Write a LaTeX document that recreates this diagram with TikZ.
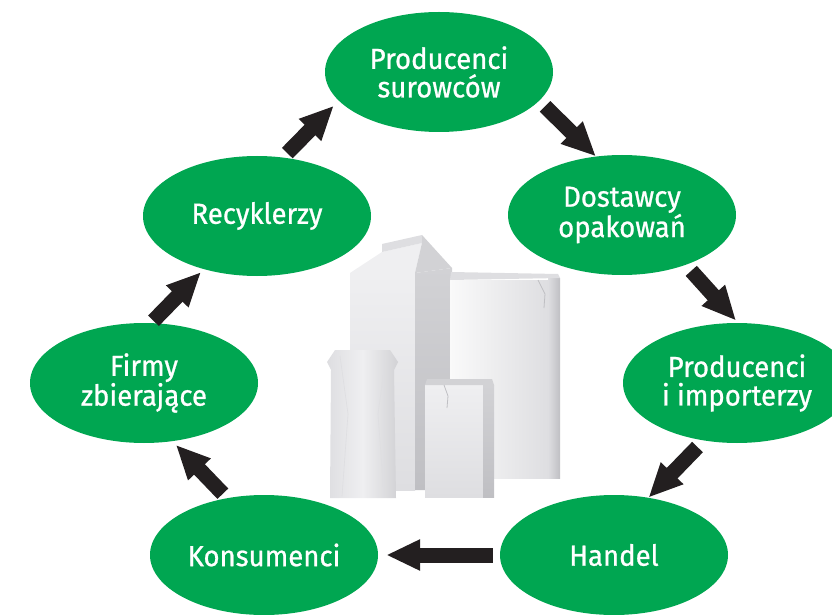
\documentclass[tikz,border=0pt]{standalone}
\usepackage{fontspec}
\setmainfont{Fira Sans}[FakeStretch=0.95,FakeBold=0.8]
\usetikzlibrary{arrows.meta,shapes.geometric}
\definecolor{grn}{HTML}{00A651}
\definecolor{arr}{HTML}{231F20}
\definecolor{c1}{HTML}{EFEFF1}
\definecolor{c2}{HTML}{D2D2D5}
\definecolor{c3}{HTML}{DEDEE1}
\definecolor{c4}{HTML}{BFBFC3}
\tikzset{
 stage/.style={ellipse, fill=grn, draw=none, minimum width=228pt, minimum height=120pt,
   inner sep=0pt, text=white, align=center, font=\fontsize{29}{28.5}\selectfont},
 flow/.style={draw=arr, line width=15pt, -{Triangle[width=29pt,length=34pt]}},
 fold/.style={draw=c4, line width=0.8pt},
}
\begin{document}
\begin{tikzpicture}[x=1pt,y=1pt]
\useasboundingbox (0,0) rectangle (832,614);
% ---- cartons (picture) ----
% tall gable carton
\shade[top color=c1, bottom color=c3] (350,124) rectangle (415,341);
\shade[top color=c2, bottom color=c4] (415,124) -- (415,341) -- (452,346) -- (452,124) -- cycle;
\fill[c1] (350,341) -- (382,362) -- (422,371) -- (415,341) -- cycle;
\fill[c3] (382,362) -- (382,370) -- (422,379) -- (422,371) -- cycle;
\fill[c2] (415,341) -- (422,371) -- (422,379) -- (452,346) -- cycle;
% right box
\shade[left color=white!96!gray, right color=c3] (450,136) rectangle (548,334);
\shade[left color=c3, right color=c4] (548,136) rectangle (560,336);
\fill[c3] (450,334) -- (451,342) -- (558,340) -- (560,336) -- cycle;
\draw[fold] (538,334) -- (545,320) -- (544,306);
% pouch carton
\shade[left color=c3, right color=c2, middle color=c1]
  (330,116) -- (331,244) -- (327,252) -- (335,264) -- (390,264) -- (398,252) -- (394,244) -- (396,116) -- cycle;
\draw[draw=c3, line width=0.6pt] (340,258) -- (348,200) -- (342,118);
\draw[draw=c3, line width=0.6pt] (386,258) -- (378,200) -- (384,118);
% small carton
\shade[top color=c1, bottom color=c3] (425,117) rectangle (483,229);
\shade[top color=c2, bottom color=c4] (483,117) rectangle (494,229);
\fill[c2] (425,229) -- (427,235) -- (492,235) -- (494,229) -- cycle;
\draw[fold] (444,229) -- (448,218) -- (447,206);
% ---- stages ----
\node[stage] (s) at (439,542) {Producenci\\surowców};
\node[stage] (d) at (622,399) {Dostawcy\\opakowań};
\node[stage] (p) at (737,231) {Producenci\\i importerzy};
\node[stage] (h) at (614,59) {Handel};
\node[stage] (k) at (264,59) {Konsumenci};
\node[stage] (f) at (144,231) {Firmy\\zbierające};
\node[stage] (r) at (257,398) {Recyklerzy};
% ---- flow arrows ----
\draw[flow, shorten <=8pt] (s.-16) -- (d.114);
\draw[flow, shorten <=8pt, shorten >=3pt] (d.-38) -- (p.89);
\draw[flow, shorten <=9pt] (p.-120) -- (h.59);
\draw[flow, shorten <=7pt, shorten >=8pt] (h.180) -- (k.0);
\draw[flow, shorten <=6pt, shorten >=5pt] (k.123) -- (f.-64);
\draw[flow, shorten <=3pt, shorten >=4pt] (f.83) -- (r.-135);
\draw[flow, shorten <=6pt, shorten >=7pt] (r.66) -- (s.-164);
\end{tikzpicture}
\end{document}
